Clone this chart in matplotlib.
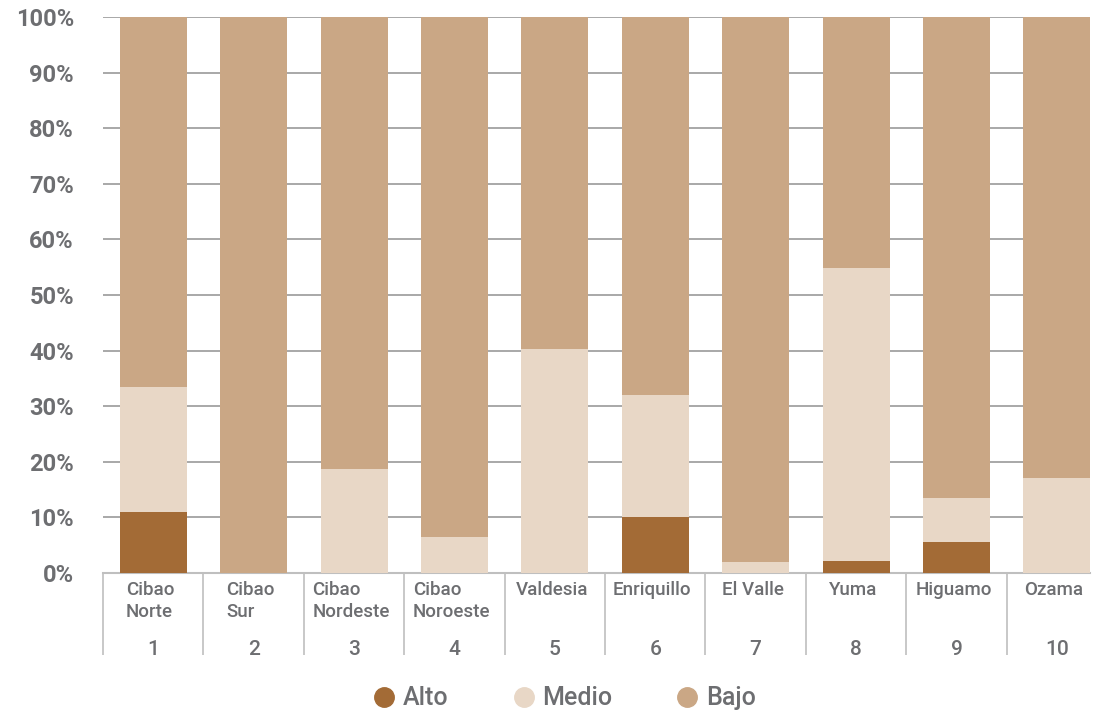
"""Stacked 100% bars: Alto / Medio / Bajo by region."""
import matplotlib.pyplot as plt
from matplotlib.lines import Line2D
from matplotlib.ticker import FuncFormatter, MultipleLocator
import numpy as np

REGIONS = ["Cibao\nNorte", "Cibao\nSur", "Cibao\nNordeste", "Cibao\nNoroeste", "Valdesia",
           "Enriquillo", "El Valle", "Yuma", "Higuamo", "Ozama"]
NUMBERS = ["1", "2", "3", "4", "5", "6", "7", "8", "9", "10"]

ALTO = [11.0, 0, 0, 0, 0, 10.1, 0, 2.2, 5.6, 0]
MEDIO = [22.5, 0, 18.7, 6.5, 40.3, 21.9, 2.0, 52.7, 7.9, 17.1]
BAJO = [100 - a - m for a, m in zip(ALTO, MEDIO)]

C_ALTO = "#A36B36"
C_MEDIO = "#E8D7C6"
C_BAJO = "#CAA785"
TXT = "#6D6E71"

plt.rcParams["font.family"] = ["Roboto", "DejaVu Sans"]

fig = plt.figure(figsize=(11.01, 7.14), dpi=100)
ax = fig.add_axes([0.0936, 0.1975, 0.8964, 0.7787])

x = np.arange(len(REGIONS))
w = 0.667
alto = np.array(ALTO)
medio = np.array(MEDIO)
bajo = np.array(BAJO)
ax.bar(x, alto, w, color=C_ALTO, zorder=3)
ax.bar(x, medio, w, bottom=alto, color=C_MEDIO, zorder=3)
ax.bar(x, bajo, w, bottom=alto + medio, color=C_BAJO, zorder=3)

ax.yaxis.set_major_locator(MultipleLocator(10))
ax.yaxis.set_major_formatter(FuncFormatter(lambda v, p: f"{v:.0f}%"))
ax.grid(axis="y", color="#9A9A9A", lw=1.2, zorder=0)
for s in ["top", "right", "left"]:
    ax.spines[s].set_visible(False)
ax.spines["bottom"].set_color("#BFBFBF")
ax.spines["bottom"].set_linewidth(1.5)
ax.tick_params(axis="y", length=0, pad=21, labelsize=17, labelcolor=TXT)
for lbl in ax.get_yticklabels():
    lbl.set_fontweight("bold")

# category separators as minor ticks hanging below the axis
ax.set_xticks(x)
ax.set_xticklabels([])
ax.set_xticks(np.arange(-0.5, 9.6, 1.0), minor=True)
ax.tick_params(axis="x", which="major", length=0)
ax.tick_params(axis="x", which="minor", length=59, width=1.2, color="#BFBFBF", direction="out")
ax.set_ylim(0, 100)
ax.set_xlim(-0.5, 9.33)

tr = ax.get_xaxis_transform()
for xi, name, num in zip(x, REGIONS, NUMBERS):
    ax.text(xi - 0.03, -0.015, name, transform=tr, ha="center", va="top", fontsize=13.5,
            color=TXT, multialignment="left", linespacing=1.25, fontweight="medium")
    ax.text(xi, -0.138, num, transform=tr, ha="center", va="center", fontsize=15,
            color=TXT, fontweight="medium")

handles = [Line2D([], [], marker="o", ls="", ms=14, color=c) for c in (C_ALTO, C_MEDIO, C_BAJO)]
leg = fig.legend(handles, ["Alto", "Medio", "Bajo"], loc="center", bbox_to_anchor=(0.511, 0.022),
                 ncol=3, frameon=False, fontsize=18, handletextpad=0.15, columnspacing=2.4,
                 handlelength=1.2)
for t in leg.get_texts():
    t.set_color(TXT)
    t.set_fontweight("medium")

fig.savefig("out.png", dpi=100)
